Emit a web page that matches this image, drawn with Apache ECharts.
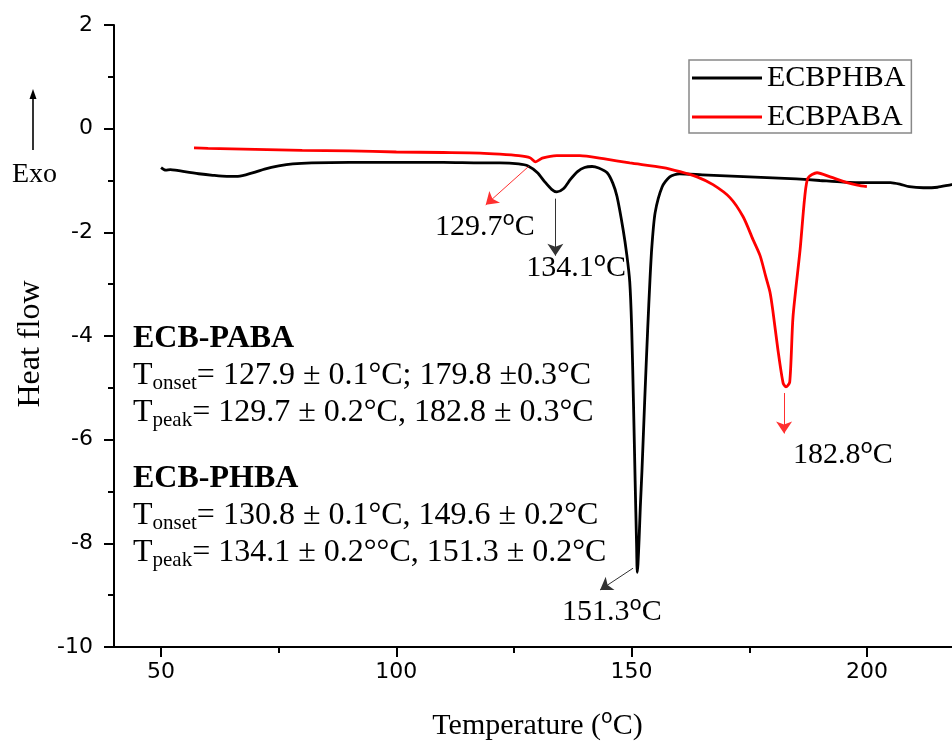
<!DOCTYPE html>
<html><head><meta charset="utf-8">
<script src="https://cdn.jsdelivr.net/npm/echarts@6/dist/echarts.min.js"></script>
<style>html,body{margin:0;padding:0;background:#fff}#c{width:952px;height:747px}</style>
</head><body><div id="c"></div>
<script>
// ---- data ----
const seriesNames = ['ECBPHBA', 'ECBPABA'];
const phbaT  = [50, 51, 52, 53, 55, 58, 61, 64, 66, 68, 70, 72, 75, 78, 82, 90, 100, 110, 118, 122, 126, 128, 130, 131.5, 133, 134.1, 135.5, 137, 138.5, 140, 141.6, 143, 144.8, 146, 146.9, 148.2, 149.0, 149.6, 150.0, 150.4, 150.75, 151.05, 151.2, 151.35, 151.6, 151.85, 152.2, 152.8, 153.4, 153.9, 154.3, 155, 156.5, 158.1, 160.2, 165, 170, 175, 180, 185, 190, 195, 200, 205, 207, 209, 212, 215, 218, 220];
const phbaHF = [-0.75, -0.80, -0.79, -0.80, -0.83, -0.87, -0.90, -0.92, -0.92, -0.89, -0.84, -0.78, -0.72, -0.68, -0.66, -0.65, -0.65, -0.65, -0.66, -0.66, -0.68, -0.72, -0.85, -1.02, -1.17, -1.22, -1.16, -0.98, -0.83, -0.75, -0.73, -0.76, -0.85, -1.05, -1.31, -1.95, -2.45, -2.95, -3.8, -5.3, -6.8, -8.0, -8.56, -8.4, -7.9, -7.3, -6.6, -5.2, -3.9, -2.92, -2.28, -1.62, -1.12, -0.93, -0.87, -0.89, -0.91, -0.93, -0.95, -0.97, -1.00, -1.03, -1.04, -1.04, -1.07, -1.12, -1.14, -1.13, -1.08, -1.06];
const pabaT  = [57, 60, 65, 70, 80, 90, 100, 110, 117.8, 122, 126, 128.4, 129.6, 131, 134.1, 139, 144, 149.6, 156.7, 160.3, 163.9, 167.3, 170.9, 173.7, 175.8, 177.3, 178.5, 179.4, 180.0, 181.1, 182.2, 182.8, 183.6, 184.3, 185.8, 186.8, 187.5, 189.4, 192.2, 195.8, 198, 200];
const pabaHF = [-0.37, -0.38, -0.39, -0.40, -0.42, -0.43, -0.45, -0.46, -0.47, -0.49, -0.52, -0.56, -0.64, -0.57, -0.52, -0.52, -0.58, -0.66, -0.75, -0.83, -0.93, -1.08, -1.33, -1.70, -2.14, -2.45, -2.85, -3.15, -3.5, -4.27, -4.91, -4.98, -4.89, -3.63, -2.34, -1.31, -0.95, -0.85, -0.93, -1.04, -1.09, -1.12];
const xMajorTicks = [50, 100, 150, 200];
const xMinorTicks = [75, 125, 175];
const peakLabels = ['129.7', '134.1', '151.3', '182.8'];

// ---- layout / style ----
const serif = 'Liberation Serif';
const sans = 'DejaVu Sans';
const black = '#000';
const zip = (a, b) => a.map((v, i) => [v, b[i]]);

const chart = echarts.init(document.getElementById('c'), null, {renderer: 'canvas'});

const axisLineStyle = {color: black, width: 2};
const option = {
  animation: false,
  backgroundColor: '#fff',
  grid: {left: 114, top: 25, width: 847, height: 622, containLabel: false, outerBoundsMode: 'none'},
  legend: {
    data: seriesNames,
    orient: 'vertical',
    left: 689, top: 60,
    icon: 'rect',
    itemWidth: 70, itemHeight: 3, itemGap: 9, itemTextGap: 8,
    padding: [3, 6, 1, 3],
    borderColor: '#888', borderWidth: 1.5,
    textStyle: {fontFamily: serif, fontSize: 30, color: black}
  },
  xAxis: [{
    type: 'value', min: 40, max: 220,
    axisLine: {show: true, onZero: false, lineStyle: axisLineStyle},
    axisTick: {show: true, customValues: xMajorTicks, length: 10, lineStyle: axisLineStyle},
    axisLabel: {customValues: xMajorTicks, fontFamily: sans, fontSize: 22, color: black, margin: 14},
    splitLine: {show: false},
    name: '{n|Temperature (}{s|o}{n|C)}',
    nameLocation: 'middle', nameGap: 62,
    nameTextStyle: {
      rich: {
        n: {fontFamily: serif, fontSize: 30, color: black, lineHeight: 34},
        s: {fontFamily: sans, fontSize: 19, color: black, verticalAlign: 'top', lineHeight: 2}
      }
    }
  }, {
    type: 'value', min: 40, max: 220, position: 'bottom',
    axisLine: {show: false, onZero: false},
    axisTick: {show: true, customValues: xMinorTicks, length: 6, lineStyle: axisLineStyle},
    axisLabel: {show: false},
    splitLine: {show: false}
  }],
  yAxis: {
    type: 'value', min: -10, max: 2, interval: 2,
    axisLine: {show: true, onZero: false, lineStyle: axisLineStyle},
    axisTick: {show: true, length: 10, lineStyle: axisLineStyle},
    minorTick: {show: true, splitNumber: 2, length: 6, lineStyle: axisLineStyle},
    axisLabel: {fontFamily: sans, fontSize: 22, color: black, margin: 21},
    splitLine: {show: false},
    minorSplitLine: {show: false},
    name: 'Heat flow',
    nameLocation: 'middle', nameGap: 57,
    nameTextStyle: {fontFamily: serif, fontSize: 32, color: black, padding: [0, 16, 0, 0]}
  },
  series: [{
    name: seriesNames[0], type: 'line', xAxisIndex: 0,
    data: zip(phbaT, phbaHF),
    symbol: 'none', smooth: 0.25,
    lineStyle: {color: black, width: 2.8},
    itemStyle: {color: black},
    z: 2,
    markLine: {
      silent: true, symbol: ['none', 'arrow'], symbolSize: 12,
      label: {show: false},
      lineStyle: {color: '#333', width: 1, type: 'solid'},
      data: [
        [{coord: [133.8, -1.35]}, {coord: [133.8, -2.45]}],
        [{coord: [150.3, -8.48]}, {coord: [143.3, -8.9]}]
      ]
    }
  }, {
    name: seriesNames[1], type: 'line', xAxisIndex: 0,
    data: zip(pabaT, pabaHF),
    symbol: 'none', smooth: 0.25,
    lineStyle: {color: '#ff0000', width: 2.8},
    itemStyle: {color: '#ff0000'},
    z: 3,
    markLine: {
      silent: true, symbol: ['none', 'arrow'], symbolSize: 12,
      label: {show: false},
      lineStyle: {color: '#ff3030', width: 1, type: 'solid'},
      data: [
        [{coord: [128.1, -0.73]}, {coord: [119.0, -1.47]}],
        [{coord: [182.4, -5.1]}, {coord: [182.4, -5.88]}]
      ]
    }
  }]
};
chart.setOption(option);

// annotation anchors in data coordinates (left edge, baseline)
const labelAnchors = [[108.2, -2.09], [127.6, -2.88], [135.2, -9.52], [184.3, -6.49]];
const annRich = {
  n: {fontFamily: serif, fontSize: 30, color: black, lineHeight: 34},
  s: {fontFamily: sans, fontSize: 20, color: black, verticalAlign: 'top', lineHeight: 2}
};
const graphics = peakLabels.map((t, i) => {
  const p = chart.convertToPixel({gridIndex: 0}, labelAnchors[i]);
  return {
    type: 'text', x: p[0], y: p[1] - 27, z: 10,
    style: {text: '{n|' + t + '}{s|o}{n|C}', rich: annRich, verticalAlign: 'top', align: 'left'}
  };
});

const blockRich = {
  b: {fontFamily: serif, fontSize: 32, fontWeight: 'bold', color: black, lineHeight: 37},
  n: {fontFamily: serif, fontSize: 32, color: black, lineHeight: 37},
  sub: {fontFamily: serif, fontSize: 21, color: black, verticalAlign: 'bottom', lineHeight: 20}
};
const block1 = '{b|ECB-PABA}\n{n|T}{sub|onset}{n|= 127.9 ± 0.1°C; 179.8 ±0.3°C}\n{n|T}{sub|peak}{n|= 129.7 ± 0.2°C, 182.8 ± 0.3°C}';
const block2 = '{b|ECB-PHBA}\n{n|T}{sub|onset}{n|= 130.8 ± 0.1°C, 149.6 ± 0.2°C}\n{n|T}{sub|peak}{n|= 134.1 ± 0.2°°C, 151.3 ± 0.2°C}';
graphics.push(
  {type: 'text', x: 133, y: 320, z: 10, style: {text: block1, rich: blockRich, verticalAlign: 'top'}},
  {type: 'text', x: 133, y: 460, z: 10, style: {text: block2, rich: blockRich, verticalAlign: 'top'}},
  {type: 'text', x: 12, y: 175, z: 10, style: {text: 'Exo', font: '28px "Liberation Serif"', fill: black, verticalAlign: 'middle'}},
  {type: 'line', z: 10, shape: {x1: 33, y1: 150, x2: 33, y2: 96}, style: {stroke: black, lineWidth: 1.6}},
  {type: 'polygon', z: 10, shape: {points: [[29.5, 99], [33, 89], [36.5, 99]]}, style: {fill: black}}
);
chart.setOption({graphic: graphics});
</script>
</body></html>
